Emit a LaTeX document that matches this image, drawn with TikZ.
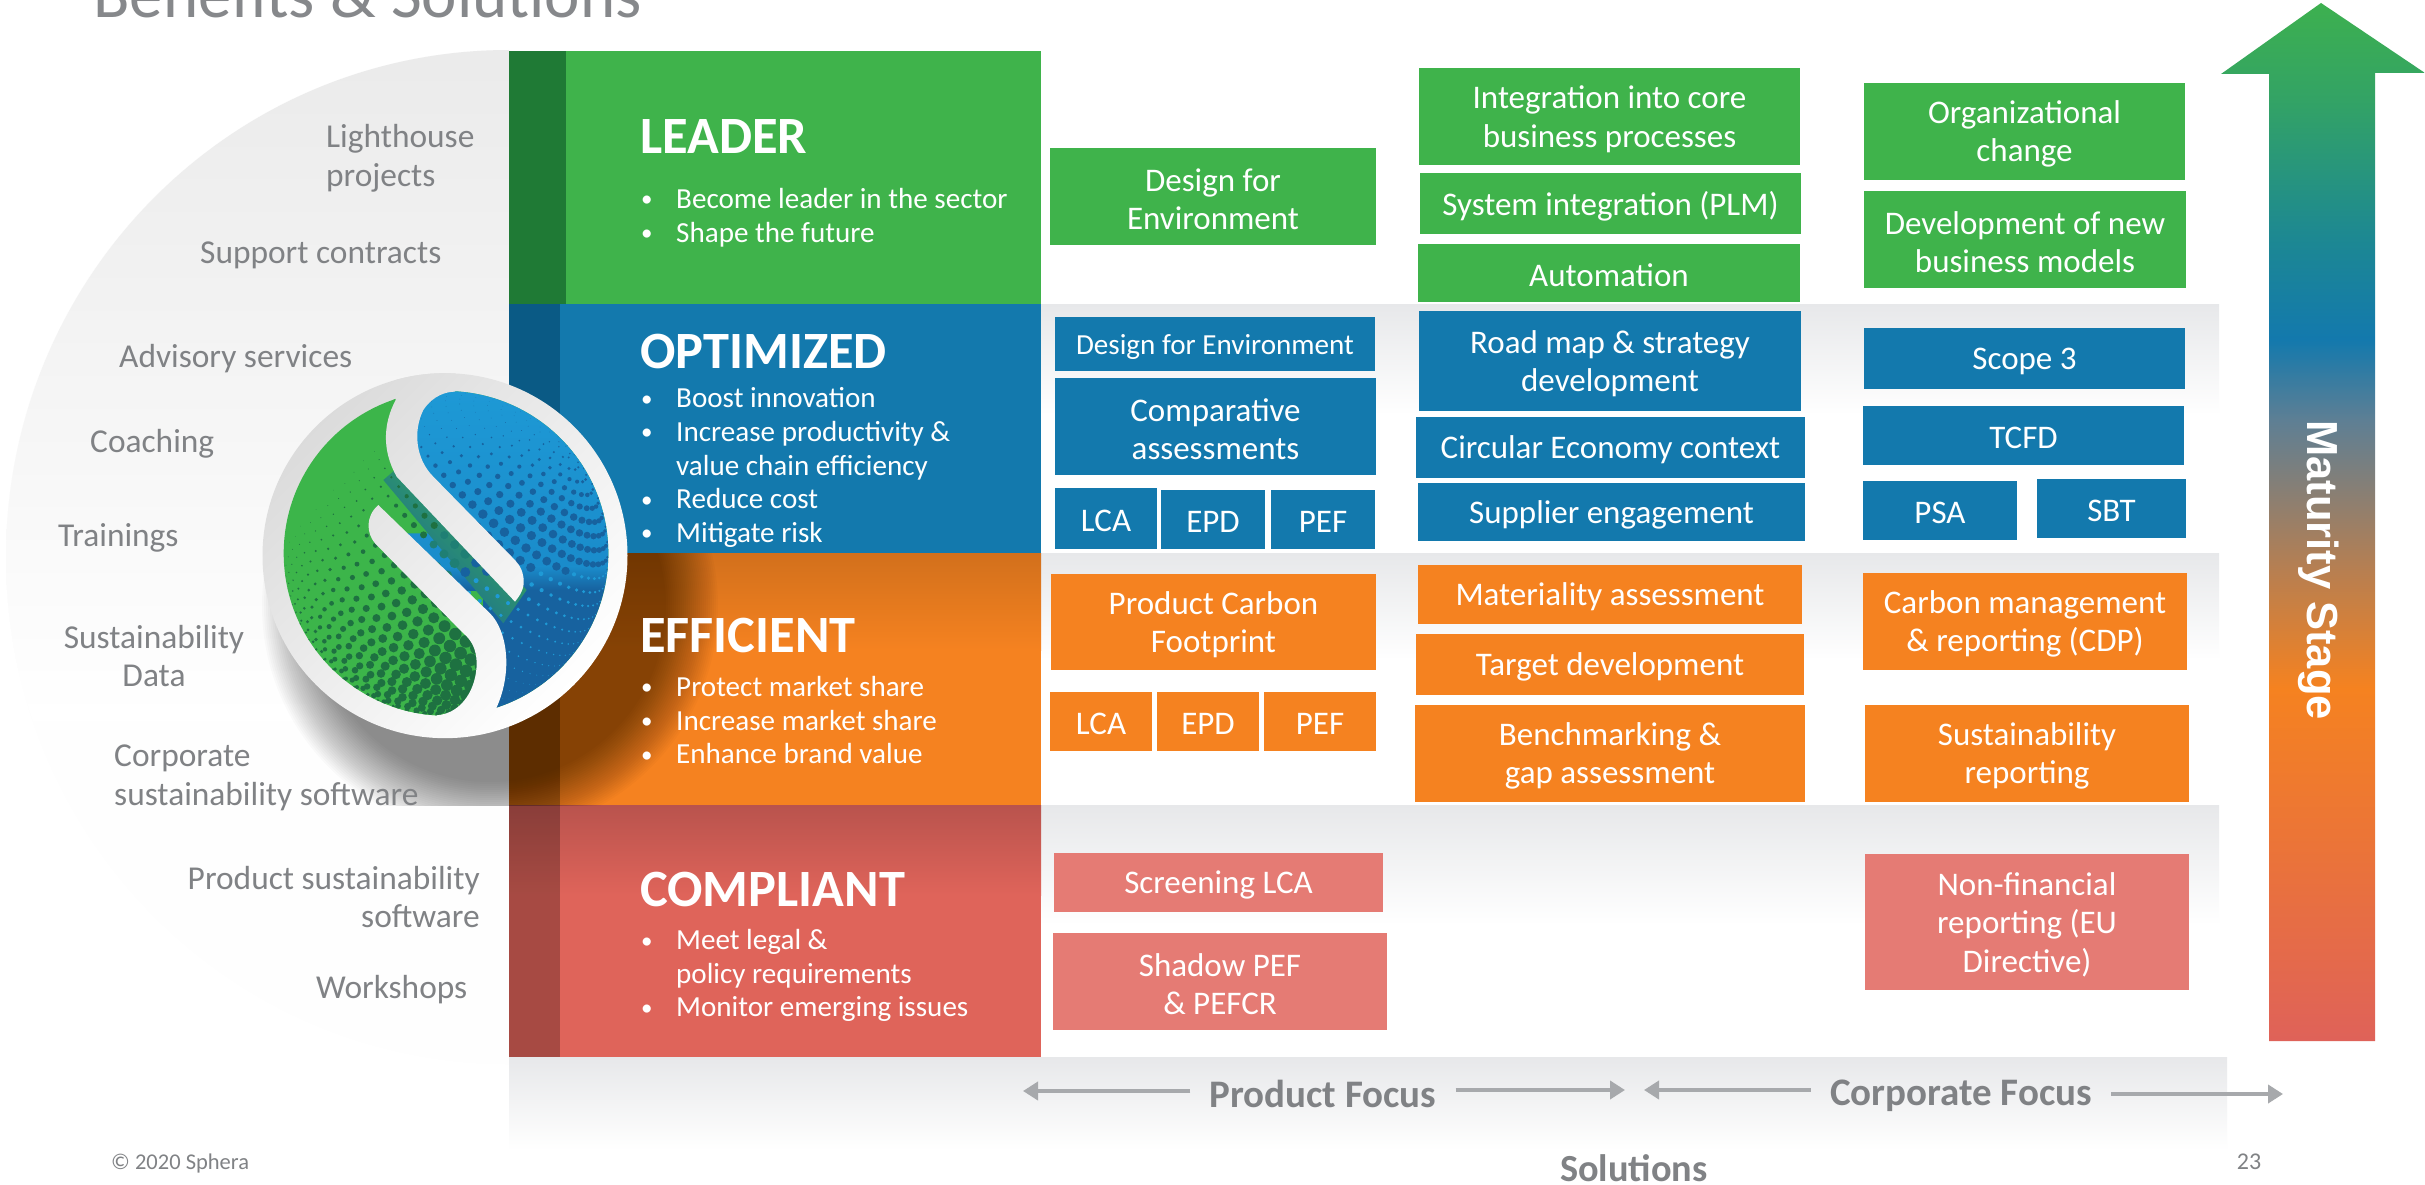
\documentclass[tikz,border=0pt]{standalone}
\usepackage{fontspec}
\setmainfont{Carlito}
\newfontfamily\widefont{Liberation Sans}
\usetikzlibrary{arrows.meta}
\definecolor{cgreen}{HTML}{3FB34B}
\definecolor{cgreend}{HTML}{1F7A35}
\definecolor{cblue}{HTML}{1379AD}
\definecolor{cblued}{HTML}{0A5A85}
\definecolor{corange}{HTML}{F58220}
\definecolor{coranget}{HTML}{D2701C}
\definecolor{cred}{HTML}{DF645A}
\definecolor{credt}{HTML}{B9534D}
\definecolor{cpink}{HTML}{E57B74}
\definecolor{cgrey}{HTML}{808285}
\definecolor{cband}{HTML}{E7E8EA}
\definecolor{carr}{HTML}{A7A9AC}
\definecolor{lgreen}{HTML}{3CB54A}
\definecolor{ldot}{HTML}{1E7141}
\definecolor{lblue}{HTML}{1E9AD6}
\definecolor{lbluem}{HTML}{1A8CCB}
\definecolor{lbluek}{HTML}{17629F}
\definecolor{lteal}{HTML}{27A56E}
\definecolor{ltealk}{HTML}{1F7F74}
\definecolor{ma}{HTML}{3DB04F}
\definecolor{mb}{HTML}{33A365}
\definecolor{mc}{HTML}{1C8794}
\definecolor{md}{HTML}{1379AD}
\definecolor{me}{HTML}{5E7F94}
\definecolor{mf}{HTML}{B87F50}
\definecolor{mg}{HTML}{F58220}
\definecolor{mh}{HTML}{EB7438}
\definecolor{mi}{HTML}{DF6259}
\definecolor{halfd}{HTML}{FEFEFE}
\pgfdeclareverticalshading{maturshade}{100bp}{
 color(0bp)=(mi); color(25bp)=(mi); color(34.4bp)=(mh); color(42bp)=(mg);
 color(47.6bp)=(mf); color(54.9bp)=(me); color(58.8bp)=(md); color(63.4bp)=(mc);
 color(70.35bp)=(mb); color(75bp)=(ma); color(100bp)=(ma)}
\tikzset{
 boxn/.style={rectangle,inner sep=0pt,outer sep=0pt},
 boxt/.style={inner sep=0pt,text=white,align=center,font=\fontsize{33}{38.5}\selectfont,yshift=-2.6pt},
 greenbox/.style={fill=cgreen},
 bluebox/.style={fill=cblue},
 orangebox/.style={fill=corange},
 pinkbox/.style={fill=cpink},
 leftlabel/.style={text=cgrey,inner sep=0pt,font=\fontsize{33.4}{38.5}\selectfont},
 rowhead/.style={text=white,inner sep=0pt,anchor=west,font=\fontsize{52.4}{56}\bfseries\selectfont},
 rowlist/.style={text=white,inner sep=0pt,anchor=west,align=left,font=\fontsize{29.1}{33.6}\selectfont},
 focus/.style={text=cgrey,inner ysep=0pt,inner xsep=19pt,font=\fontsize{39}{43}\bfseries\selectfont},
 focusarrow/.style={draw=carr,line width=4pt,-{Triangle[length=15pt,width=18pt]}},
 bandshade/.style={top color=cband,bottom color=white}
}
\newcommand\bx[7]{%
 \pgfmathsetmacro\bW{#4-#2}\pgfmathsetmacro\bH{#5-#3}%
 \pgfmathsetmacro\bX{(#2+#4)/2}\pgfmathsetmacro\bY{(#3+#5)/2}%
 \node[boxn,#6,minimum width=\bW pt,minimum height=\bH pt,label={[boxt]center:{#7}}] (#1) at (\bX,\bY) {};}
\newcommand\itm[1]{\makebox[35pt][l]{\raisebox{1.5pt}{\fontsize{23}{23}\selectfont •}}#1}
\newcommand\logodisc{\shade[top color=black!14,bottom color=white,shading angle=45] (585,587) circle[radius=182.5pt];}
\begin{document}
\begin{tikzpicture}[x=1pt,y=-1pt]
\useasboundingbox (0,0) rectangle (2425,1185);
\fill[white] (0,0) rectangle (2425,1185);
% title
\node[text=cgrey!95,anchor=base west,inner sep=0pt,font=\fontsize{67}{72}\selectfont] (title) at (93,18) {Benefits \& Solutions};
% half disc
\begin{scope}
 \clip (0,40) rectangle (509,1080);
 \fill[halfd] (509,557) circle[x radius=503pt,y radius=507pt];
 \clip (509,557) circle[x radius=503pt,y radius=507pt];
 \shade[top color=black!8,bottom color=white] (0,51) rectangle (509,720);
\end{scope}
% grey bands
\shade[bandshade] (1041,304) rectangle (2219,415);
\shade[bandshade] (1041,553) rectangle (2219,660);
\shade[bandshade] (1041,805) rectangle (2219,925);
\shade[bandshade] (509,1057) rectangle (2227,1150);
% rows
\fill[cgreen] (509,51) rectangle (1041,304);
\fill[cgreend] (509,51) rectangle (566,304);
\fill[cblue] (509,304) rectangle (1041,553);
\fill[cblued] (509,304) rectangle (560,553);
\fill[corange] (509,553) rectangle (1041,805);
\shade[top color=coranget,bottom color=corange] (509,553) rectangle (1041,650);
\fill[black,opacity=.28] (509,553) rectangle (560,805);
\fill[cred] (509,805) rectangle (1041,1057);
\shade[top color=credt,bottom color=cred] (509,805) rectangle (1041,895);
\fill[black,opacity=.25] (509,805) rectangle (560,1057);
% shadow of the logo
\begin{scope}
 \clip (200,553) rectangle (1041,805);
 \foreach \rad in {176,178,...,228}{
  \fill[black,opacity=.018] (490,606) circle[radius=\rad pt];
 }
\end{scope}
% logo
\begin{scope}[shift={(250,360)},x=.33333pt,y=-.33333pt]
 \logodisc
 \begin{scope}
  \clip (588,580) circle[radius=162.3pt];
  \fill[lgreen] (50,50) rectangle (1130,1110);
  % blue part
  \shade[top color=lblue,bottom color=lbluem] (470,50) rectangle (1130,620);
  \shade[top color=lbluem,bottom color=lbluek] (470,620) rectangle (1130,690);
  \fill[lbluek] (700,690) rectangle (1130,1110);
  \fill[lgreen] (430,50) -- (470,50) -- (470,300) -- (650,520) -- (430,520) -- cycle;
  \fill[lgreen] (430,500) -- (720,800) -- (740,1110) -- (430,1110) -- cycle;
  % strip between the two bands
  \shade[left color=lgreen,middle color=lteal,right color=lbluek,shading angle=-45] (400,360) -- (470,300) -- (830,690) -- (760,790) -- cycle;
  % dots
  \foreach \kk in {1,...,35}{
   \pgfmathsetmacro\myph{\kk*5}
   \pgfmathsetmacro\mysn{sin(\myph)}
   \pgfmathsetmacro\mycs{cos(\myph)}
   \pgfmathtruncatemacro\mynn{max(5,round(72*\mysn))}
   \foreach \jj in {1,...,\mynn}{
    \pgfmathsetmacro\mylam{360/\mynn*\jj+\kk*17}
    \pgfmathsetmacro\mycl{cos(\mylam)}
    \pgfmathsetmacro\mysl{sin(\mylam)}
    \pgfmathsetmacro\myZ{\mycs*.27+\mysn*\mysl*.963}
    \ifdim\myZ pt>0.03pt
     \pgfmathsetmacro\myX{588+487*(\mycs*.64+\mysn*(\mycl*.747-\mysl*.179))}
     \pgfmathsetmacro\myY{580+487*(\mycs*(-.72)+\mysn*(\mycl*.664+\mysl*.202))}
     \pgfmathsetmacro\myd{\myX+\myY}
     \pgfmathsetmacro\mye{\myY-\myX}
     \pgfmathtruncatemacro\isb{(\myX>=720)||((\mye<100)&&(\myd>1250))||((\mye<-100)&&(\myX>470))}
     \ifnum\isb=1
      \ifdim\myY pt<640pt
       \pgfmathsetmacro\myr{min(15,max(1.5,.05*(\myY-170)))*sqrt(\myZ)*0.33333}
       \fill[lbluek] (\myX,\myY) circle[radius=\myr pt];
      \else
       \pgfmathsetmacro\myr{max(1,(7*(1-(\myY-640)*.0025)+1)*sqrt(\myZ))*0.33333}
       \fill[lblue] (\myX,\myY) circle[radius=\myr pt];
      \fi
     \else
      \pgfmathsetmacro\myr{min(19,.024*(\myd-600)*sqrt(\myZ))*0.33333}
      \ifdim\myr pt>0.25pt
       \pgfmathtruncatemacro\ist{(\mye<100)&&(\mye>-150)&&(\myd>1050)}
       \ifnum\ist=1
        \fill[ltealk] (\myX,\myY) circle[radius=\myr pt];
       \else
        \fill[ldot] (\myX,\myY) circle[radius=\myr pt];
       \fi
      \fi
     \fi
    \fi
   }
  }
 \end{scope}
 % upper band of the S
 \begin{scope}
  \clip (437,120) .. controls (400,190) and (395,270) .. (440,350) -- (795,725)
   .. controls (815,700) and (825,680) .. (820,650) .. controls (815,620) and (800,605) .. (785,590)
   -- (550,350) .. controls (495,295) and (490,210) .. (520,150) .. controls (550,105) and (590,95) .. (615,95)
   -- (615,30) -- (437,30) -- cycle;
  \logodisc
 \end{scope}
 % lower band of the S
 \begin{scope}
  \clip (385,435) -- (720,760) .. controls (770,810) and (790,930) .. (740,1042)
   -- (740,1110) -- (560,1110) -- (560,1066) .. controls (640,1060) and (680,980) .. (680,910)
   .. controls (680,870) and (665,840) .. (640,820) -- (375,550) .. controls (350,520) and (345,470) .. (385,435) -- cycle;
  \logodisc
 \end{scope}
\end{scope}
% row texts
\node[rowhead] (hleader) at (640,137) {LEADER};
\node[rowlist] (lleader) at (641,217.5) {\itm{Become leader in the sector}\\\itm{Shape the future}};
\node[rowhead] (hopt) at (640,351) {OPTIMIZED};
\node[rowlist] (lopt) at (641,467.5) {\itm{Boost innovation}\\\itm{Increase productivity \&}\\\hspace*{35pt}value chain efficiency\\\itm{Reduce cost}\\\itm{Mitigate risk}};
\node[rowhead] (heff) at (640,635) {EFFICIENT};
\node[rowlist] (leff) at (641,720) {\itm{Protect market share}\\\itm{Increase market share}\\\itm{Enhance brand value}};
\node[rowhead] (hcom) at (640,889.5) {COMPLIANT};
\node[rowlist] (lcom) at (641,975.5) {\itm{Meet legal \&}\\\hspace*{35pt}policy requirements\\\itm{Monitor emerging issues}};
% left labels
\node[leftlabel,anchor=west,align=left] (l1) at (326,158.5) {Lighthouse\\projects};
\node[leftlabel,anchor=west] (l2) at (200,255.5) {Support contracts};
\node[leftlabel,anchor=west] (l3) at (119,359) {Advisory services};
\node[leftlabel,anchor=west] (l4) at (90,444) {Coaching};
\node[leftlabel,anchor=west] (l5) at (58,538) {Trainings};
\node[leftlabel,align=center] (l6) at (154,656) {Sustainability\\Data};
\node[leftlabel,anchor=west,align=left] (l7) at (114,778) {Corporate\\sustainability software};
\node[leftlabel,anchor=east,align=right] (l8) at (480,897) {Product sustainability\\software};
\node[leftlabel,anchor=west] (l9) at (316,990) {Workshops};
% boxes
\bx{g1}{1050}{148}{1376}{245}{greenbox}{Design for\\Environment}
\bx{g2}{1419}{68}{1800}{165}{greenbox}{Integration into core\\business processes}
\bx{g3}{1420}{173}{1801}{234}{greenbox}{System integration (PLM)}
\bx{g4}{1418}{244}{1800}{302}{greenbox}{Automation}
\bx{g5}{1864}{83}{2185}{180}{greenbox}{Organizational\\change}
\bx{g6}{1864}{191}{2186}{288}{greenbox}{Development of new\\business models}
\bx{b1}{1055}{317}{1375}{371}{bluebox}{\fontsize{29.1}{34}\selectfont Design for Environment}
\bx{b2}{1055}{378}{1376}{475}{bluebox}{Comparative\\assessments}
\bx{b3}{1055}{488}{1157}{549}{bluebox}{LCA}
\bx{b4}{1161}{490}{1265}{549}{bluebox}{EPD}
\bx{b5}{1271}{490}{1375}{549}{bluebox}{PEF}
\bx{b6}{1419}{311}{1801}{411}{bluebox}{Road map \& strategy\\development}
\bx{b7}{1416}{417}{1805}{478}{bluebox}{Circular Economy context}
\bx{b8}{1418}{483}{1805}{541}{bluebox}{Supplier engagement}
\bx{b9}{1864}{328}{2185}{389}{bluebox}{Scope 3}
\bx{b10}{1863}{406}{2184}{465}{bluebox}{TCFD}
\bx{b11}{1863}{481}{2017}{540}{bluebox}{PSA}
\bx{b12}{2037}{479}{2186}{538}{bluebox}{SBT}
\bx{o1}{1051}{574}{1376}{670}{orangebox}{Product Carbon\\Footprint}
\bx{o2}{1050}{692}{1152}{751}{orangebox}{LCA}
\bx{o3}{1157}{692}{1259}{751}{orangebox}{EPD}
\bx{o4}{1264}{692}{1376}{751}{orangebox}{PEF}
\bx{o5}{1418}{565}{1802}{624}{orangebox}{Materiality assessment}
\bx{o6}{1416}{634}{1804}{695}{orangebox}{Target development}
\bx{o7}{1415}{705}{1805}{802}{orangebox}{Benchmarking \&\\gap assessment}
\bx{o8}{1863}{573}{2187}{670}{orangebox}{Carbon management\\\& reporting (CDP)}
\bx{o9}{1865}{705}{2189}{802}{orangebox}{Sustainability\\reporting}
\bx{r1}{1054}{853}{1383}{912}{pinkbox}{Screening LCA}
\bx{r2}{1053}{933}{1387}{1030}{pinkbox}{Shadow PEF\\\& PEFCR}
\bx{r3}{1865}{854}{2189}{990}{pinkbox}{Non-financial\\reporting (EU\\Directive)}
% maturity arrow
\shade[shading=maturshade] (2321,3) -- (2425,73) -- (2375,73) -- (2375,1041) -- (2269,1041) -- (2269,74) -- (2221,74) -- cycle;
\node[rotate=-90,text=white,inner sep=0pt,font=\widefont\fontsize{43.5}{47}\bfseries\selectfont] (mat) at (2319,570) {Maturity Stage};
% focus labels
\node[focus] (pf) at (1323,1094) {Product Focus};
\node[focus] (cf) at (1961,1096) {Corporate Focus};
\coordinate (pfL) at (1023,1091);
\coordinate (pfR) at (1625,1090);
\coordinate (cfL) at (1644,1090);
\coordinate (cfR) at (2283,1094);
\draw[focusarrow] (pf.west |- pfL) -- (pfL);
\draw[focusarrow] (pf.east |- pfR) -- (pfR);
\draw[focusarrow] (cf.west |- cfL) -- (cfL);
\draw[focusarrow] (cf.east |- cfR) -- (cfR);
% footer
\node[text=cgrey,inner sep=0pt,anchor=west,font=\fontsize{22.5}{26}\selectfont] (copy) at (111,1163) {© 2020 Sphera};
\node[text=cgrey,inner sep=0pt,font=\fontsize{38.3}{41}\bfseries\selectfont] (sol) at (1634,1168) {Solutions};
\node[text=cgrey,inner sep=0pt,font=\fontsize{24}{26}\selectfont] (pg) at (2249,1162) {23};
\end{tikzpicture}
\end{document}
